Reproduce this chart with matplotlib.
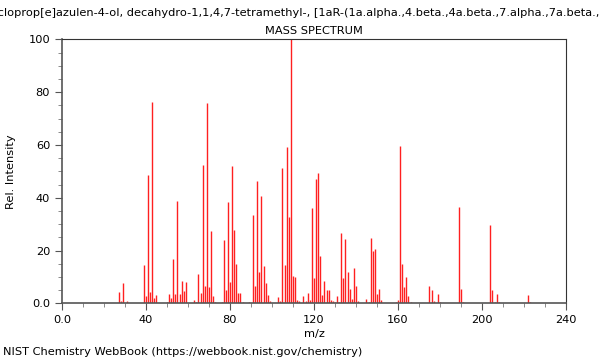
import matplotlib
matplotlib.use('Agg')
import matplotlib.pyplot as plt
from matplotlib.ticker import MultipleLocator

# peak list (m/z, relative intensity)
mz = [27, 28, 29, 31, 39, 40, 41, 42, 43, 44, 45,
      50, 51, 52, 53, 54, 55, 56, 57, 58, 59,
      63, 64, 65, 66, 67, 68, 69, 70, 71, 72, 73,
      76, 77, 78, 79, 80, 81, 82, 83, 84, 85, 86,
      89, 91, 92, 93, 94, 95, 96, 97, 98, 99,
      103, 104, 105, 106, 107, 108, 109, 110, 111, 112, 113,
      115, 116, 117, 118, 119, 120, 121, 122, 123, 124, 125, 126, 127, 128, 129, 130,
      131, 132, 133, 134, 135, 136, 137, 138, 139, 140, 141,
      145, 146, 147, 148, 149, 150, 151, 152,
      159, 160, 161, 162, 163, 164, 165, 166,
      173, 175, 176, 177, 179, 180,
      189, 190, 191,
      204, 205, 206, 207, 208,
      222, 223]
intensity = [4.4, 1.0, 7.6, 0.8, 14.4, 2.8, 48.6, 4.2, 76.4, 2.0, 3.2,
             0.5, 3.4, 2.0, 16.9, 3.4, 38.9, 3.4, 8.4, 4.5, 8.0,
             1.3, 0.5, 11.1, 3.8, 52.4, 6.6, 75.9, 6.1, 27.4, 2.7, 0.6,
             0.6, 24.0, 5.0, 38.4, 8.0, 52.0, 27.8, 14.9, 3.8, 3.8, 0.6,
             0.5, 33.4, 6.6, 46.3, 12.0, 40.8, 14.0, 7.8, 3.2, 1.0,
             2.2, 1.0, 51.4, 14.4, 59.1, 32.8, 100.0, 10.3, 10.1, 1.3, 1.0,
             2.6, 1.0, 3.8, 1.3, 36.2, 9.6, 47.1, 49.5, 17.9, 3.0, 8.4, 5.0, 5.0, 1.3, 1.0, 0.4,
             2.6, 0.6, 26.8, 9.6, 24.4, 11.8, 5.6, 1.7, 13.5, 6.6, 0.8,
             1.7, 0.6, 24.6, 19.9, 20.4, 3.5, 5.4, 1.3,
             0.5, 1.3, 59.7, 14.8, 6.2, 10.1, 2.6, 0.6,
             0.3, 6.7, 4.9, 0.9, 3.4, 0.6,
             36.4, 5.4, 0.5,
             29.7, 5.0, 0.6, 3.4, 0.6,
             3.0, 0.6]

x_ticks = [0, 40, 80, 120, 160, 200, 240]
x_labels = ['0.0', '40', '80', '120', '160', '200', '240']
y_ticks = [0, 20, 40, 60, 80, 100]
y_labels = ['0.0', '20', '40', '60', '80', '100']

compound = ("1H-Cycloprop[e]azulen-4-ol, decahydro-1,1,4,7-tetramethyl-, "
            "[1aR-(1a.alpha.,4.beta.,4a.beta.,7.alpha.,7a.beta.,7b.alpha.)]-")

FS = 8.2
plt.rcParams['font.family'] = 'DejaVu Sans'
plt.rcParams['font.size'] = FS

fig = plt.figure(figsize=(6, 3.6), dpi=100)
ax = fig.add_axes([0.1033, 0.1575, 0.84, 0.7333])

ax.vlines(mz, 0, intensity, colors='#ff2020', linewidth=1.0)

ax.set_xlim(0, 240)
ax.set_ylim(0, 100)
ax.set_xticks(x_ticks)
ax.set_xticklabels(x_labels)
ax.set_yticks(y_ticks)
ax.set_yticklabels(y_labels)
ax.xaxis.set_minor_locator(MultipleLocator(10))
ax.yaxis.set_minor_locator(MultipleLocator(5))
ax.tick_params(which='major', length=5, color='#555555', labelsize=FS)
ax.tick_params(which='minor', length=3, color='#777777')
for side in ['left', 'bottom']:
    ax.spines[side].set_color('#555555')
    ax.spines[side].set_linewidth(1.2)
for side in ['top', 'right']:
    ax.spines[side].set_color('#333333')
    ax.spines[side].set_linewidth(0.8)

ax.set_xlabel('m/z', fontsize=FS, labelpad=3)
ax.set_ylabel('Rel. Intensity', fontsize=FS, labelpad=9)
ax.set_title('MASS SPECTRUM', fontsize=FS, pad=4)

# long compound name, centred on the axes and cut off by the figure edges
fig.text(0.1033 + 0.84 / 2, 0.965, compound, ha='center', va='center', fontsize=FS)
fig.text(0.005, 0.022, 'NIST Chemistry WebBook (https://webbook.nist.gov/chemistry)',
         ha='left', va='center', fontsize=FS)

plt.savefig('out.png', dpi=100)
plt.close()
